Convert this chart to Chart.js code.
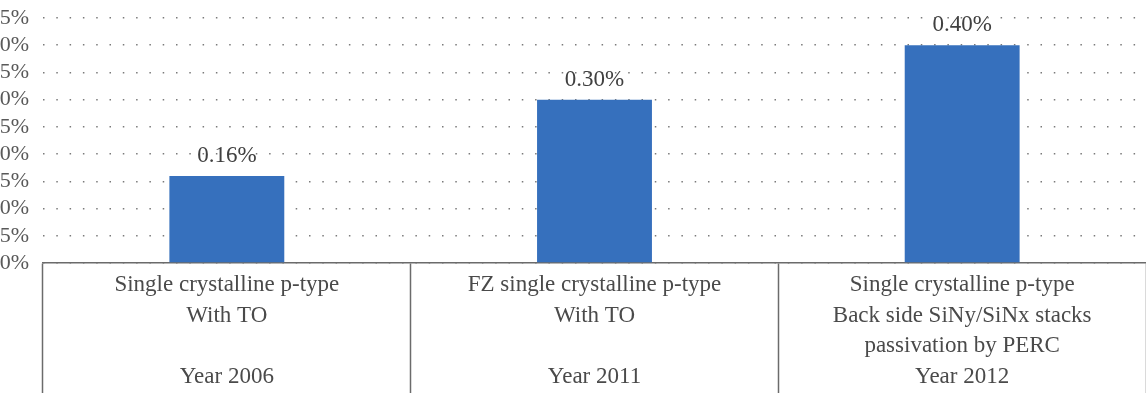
<!DOCTYPE html>
<html>
<head>
<meta charset="utf-8">
<script src="https://cdn.jsdelivr.net/npm/chart.js@4/dist/chart.umd.min.js"></script>
<style>
  html, body { margin: 0; padding: 0; background: #fff; }
  canvas { display: block; }
</style>
</head>
<body>
<canvas id="lossChart" width="1146" height="393"></canvas>
<script>
// chart data
const categories = [
    ['Single crystalline p-type', 'With TO', '', 'Year 2006'],
    ['FZ single crystalline p-type', 'With TO', '', 'Year 2011'],
    ['Single crystalline p-type', 'Back side SiNy/SiNx stacks', 'passivation by PERC', 'Year 2012']
];
const values = [0.16, 0.30, 0.40];      // percent
const yMin = 0;
const yMax = 0.45;
const yStep = 0.05;

const serif = "'Liberation Serif', 'DejaVu Serif', serif";

// value labels above each bar
const barLabels = {
    id: 'barLabels',
    afterDatasetsDraw(chart) {
        const ctx = chart.ctx;
        const meta = chart.getDatasetMeta(0);
        ctx.save();
        ctx.font = '23px ' + serif;
        ctx.fillStyle = '#404040';
        ctx.textAlign = 'center';
        ctx.textBaseline = 'middle';
        meta.data.forEach((bar, i) => {
            ctx.fillText(values[i].toFixed(2) + '%', bar.x, bar.y - 20);
        });
        ctx.restore();
    }
};

const ctx = document.getElementById('lossChart').getContext('2d');
new Chart(ctx, {
    type: 'bar',
    data: {
        labels: categories,
        datasets: [{
            data: values,
            backgroundColor: '#3670BD',
            borderWidth: 0,
            categoryPercentage: 1,
            barPercentage: 0.3125
        }]
    },
    options: {
        responsive: false,
        animation: false,
        devicePixelRatio: 1,
        layout: { padding: { top: 18, right: 0, bottom: 0, left: 0 } },
        plugins: {
            legend: { display: false },
            tooltip: { enabled: false }
        },
        scales: {
            x: {
                offset: true,
                grid: {
                    offset: true,
                    drawOnChartArea: false,
                    drawTicks: true,
                    tickLength: 140,
                    tickColor: '#6b6b6b',
                    tickWidth: 1.5,
                    color: '#6b6b6b'
                },
                border: { display: true, color: '#6b6b6b', width: 1.5 },
                ticks: {
                    padding: -133,
                    maxRotation: 0,
                    autoSkip: false,
                    color: '#4a4a4a',
                    font: { family: serif, size: 23, lineHeight: '30.5px' }
                },
                afterFit(scale) { scale.height = 130; }
            },
            y: {
                min: yMin,
                max: yMax,
                grid: {
                    color: '#7a7a7a',
                    lineWidth: 1.5,
                    drawTicks: true,
                    tickLength: 14,
                    tickColor: 'rgba(0,0,0,0)'
                },
                border: { display: false, dash: [1.5, 11.8] },
                ticks: {
                    stepSize: yStep,
                    autoSkip: false,
                    padding: 0,
                    color: '#595959',
                    font: { family: serif, size: 22 },
                    callback: value => value.toFixed(2) + '%'
                },
                afterFit(scale) { scale.width = 43; }
            }
        }
    },
    plugins: [barLabels]
});
</script>
</body>
</html>
